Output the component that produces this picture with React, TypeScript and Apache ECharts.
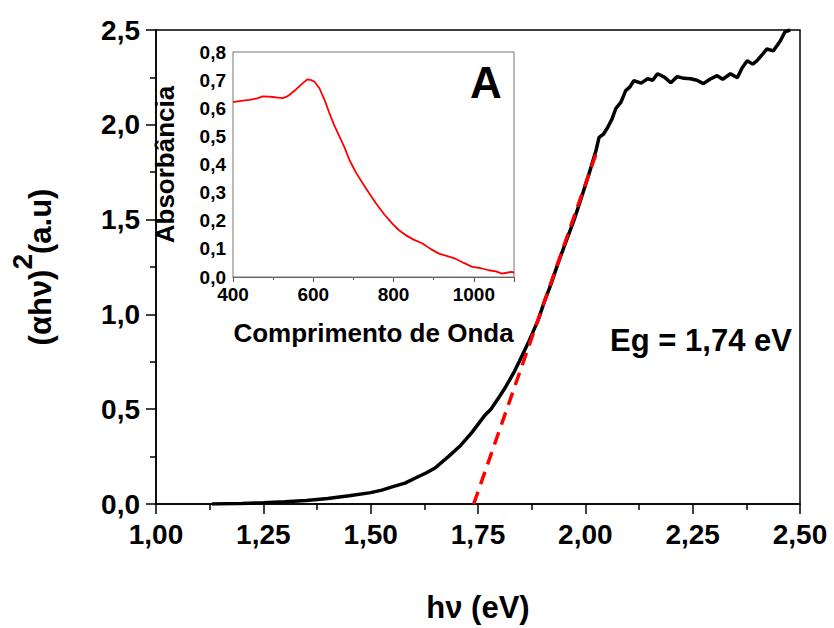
import React, { useEffect, useRef } from "react";
import * as echarts from "echarts";

// Main Tauc plot data: [hν (eV), (αhν)^2 (a.u)]
const mainHv = [
  1.13, 1.2, 1.25, 1.3, 1.35, 1.4, 1.45, 1.5, 1.526, 1.55, 1.58, 1.603, 1.63, 1.65, 1.681, 1.71, 1.735,
  1.75, 1.765, 1.78, 1.797, 1.815, 1.835, 1.85, 1.867, 1.89, 1.905, 1.92, 1.935, 1.951, 1.974, 1.99,
  2.009, 2.025, 2.032, 2.042, 2.052, 2.062, 2.071, 2.083, 2.094, 2.104, 2.113, 2.13, 2.145, 2.157,
  2.168, 2.185, 2.199, 2.214, 2.23, 2.245, 2.26, 2.275, 2.29, 2.307, 2.32, 2.338, 2.354, 2.365,
  2.377, 2.39, 2.4, 2.412, 2.423, 2.438, 2.454, 2.465, 2.477,
];
const mainVal = [
  0, 0.003, 0.007, 0.012, 0.019, 0.029, 0.043, 0.06, 0.073, 0.09, 0.11, 0.136, 0.165, 0.19, 0.25,
  0.31, 0.375, 0.42, 0.465, 0.5, 0.556, 0.62, 0.7, 0.77, 0.85, 0.97, 1.07, 1.16, 1.26, 1.36,
  1.5, 1.61, 1.745, 1.866, 1.934, 1.95, 1.986, 2.03, 2.086, 2.12, 2.18, 2.2, 2.233, 2.22, 2.243,
  2.235, 2.269, 2.25, 2.222, 2.254, 2.245, 2.243, 2.235, 2.217, 2.24, 2.259, 2.24, 2.269, 2.248,
  2.3, 2.338, 2.32, 2.338, 2.37, 2.4, 2.39, 2.442, 2.49, 2.5,
];
// Linear fit (band gap extrapolation)
const fitHv = [1.74, 2.03];
const fitVal = [0, 1.88];

// Inset absorbance spectrum: [wavelength (nm), absorbance]
const insetWl = [
  400, 420, 441, 460, 474, 490, 499, 512, 524, 535, 541, 553, 565, 576, 586, 595, 603, 615, 628,
  640, 652, 665, 678, 690, 706, 723, 740, 756, 776, 797, 812, 830, 850, 872, 892, 913, 934, 954,
  975, 996, 1016, 1037, 1055, 1070, 1085, 1095, 1100,
];
const insetVal = [
  0.622, 0.626, 0.63, 0.635, 0.642, 0.641, 0.64, 0.638, 0.636, 0.642, 0.648, 0.662, 0.678, 0.692,
  0.703, 0.7, 0.694, 0.672, 0.63, 0.583, 0.54, 0.5, 0.46, 0.416, 0.372, 0.333, 0.296, 0.262,
  0.224, 0.19, 0.168, 0.149, 0.133, 0.119, 0.1, 0.083, 0.074, 0.065, 0.05, 0.036, 0.032, 0.024,
  0.02, 0.012, 0.016, 0.018, 0.015,
];

const xTickStep = 0.25;
const yTickStep = 0.5;

const FONT = "Liberation Sans, Arial, Helvetica, sans-serif";

function zip(a: number[], b: number[]) {
  return a.map((v, i) => [v, b[i]]);
}

export default function App() {
  const ref = useRef<HTMLDivElement>(null);
  useEffect(() => {
    document.body.style.margin = "0";
    if (!ref.current) return;
    const chart = echarts.init(ref.current, undefined, { renderer: "svg" });
    const comma = (d: number) => (v: number) => v.toFixed(d).replace(".", ",");
    chart.setOption({
      animation: false,
      backgroundColor: "#fff",
      textStyle: { fontFamily: FONT },
      grid: [
        {
          left: 153,
          top: 30,
          width: 647,
          height: 475,
          show: true,
          borderColor: "#000",
          borderWidth: 1.5,
          backgroundColor: "transparent",
        },
        {
          left: 233,
          top: 52,
          width: 281,
          height: 225,
          show: true,
          borderColor: "#777",
          borderWidth: 1,
          backgroundColor: "#fff",
          z: 5,
        },
      ],
      xAxis: [
        {
          type: "value",
          gridIndex: 0,
          min: 1.0,
          max: 2.5,
          interval: xTickStep,
          name: "hν (eV)",
          nameLocation: "middle",
          nameGap: 88,
          nameTextStyle: { fontSize: 31, fontWeight: "bold", color: "#000", fontFamily: FONT },
          axisLine: { lineStyle: { color: "#000", width: 1.5 } },
          axisTick: { inside: false, length: 10, lineStyle: { color: "#000", width: 1.5 } },
          minorTick: { show: true, splitNumber: 2, length: 6, lineStyle: { color: "#000", width: 1.5 } },
          splitLine: { show: false },
          axisLabel: {
            formatter: comma(2),
            fontSize: 28,
            fontWeight: "bold",
            color: "#000",
            margin: 16,
            fontFamily: FONT,
          },
        },
        {
          type: "value",
          gridIndex: 1,
          min: 400,
          max: 1100,
          interval: 200,
          name: "Comprimento de Onda",
          nameLocation: "middle",
          nameGap: 43,
          nameTextStyle: { fontSize: 26, fontWeight: "bold", color: "#000", fontFamily: FONT },
          axisLine: { lineStyle: { color: "#555", width: 1 } },
          axisTick: { inside: false, length: 5, lineStyle: { color: "#555", width: 1 } },
          minorTick: { show: true, splitNumber: 2, length: 3, lineStyle: { color: "#555", width: 1 } },
          splitLine: { show: false },
          axisLabel: {
            formatter: (v: number) => String(v),
            fontSize: 19,
            fontWeight: "bold",
            color: "#000",
            margin: 8,
            showMaxLabel: false,
            fontFamily: FONT,
          },
        },
      ],
      yAxis: [
        {
          type: "value",
          gridIndex: 0,
          min: 0,
          max: 2.5,
          interval: yTickStep,
          name: "{a|(αhν)}{s|2}{a|(a.u)}",
          nameLocation: "middle",
          nameRotate: 90,
          nameGap: 100,
          nameTextStyle: {
            color: "#000",
            rich: {
              a: { fontSize: 31, fontWeight: "bold", color: "#000", lineHeight: 48, verticalAlign: "bottom", fontFamily: FONT },
              s: { fontSize: 28, fontWeight: "bold", color: "#000", lineHeight: 28, verticalAlign: "top", fontFamily: FONT },
            },
          },
          axisLine: { lineStyle: { color: "#000", width: 1.5 } },
          axisTick: { inside: false, length: 10, lineStyle: { color: "#000", width: 1.5 } },
          minorTick: { show: true, splitNumber: 2, length: 6, lineStyle: { color: "#000", width: 1.5 } },
          splitLine: { show: false },
          axisLabel: {
            formatter: comma(1),
            fontSize: 28,
            fontWeight: "bold",
            color: "#000",
            margin: 16,
            fontFamily: FONT,
          },
        },
        {
          type: "value",
          gridIndex: 1,
          min: 0,
          max: 0.8,
          interval: 0.1,
          name: "Absorbância",
          nameLocation: "middle",
          nameRotate: 90,
          nameGap: 55,
          nameTextStyle: { fontSize: 26, fontWeight: "bold", color: "#000", fontFamily: FONT },
          axisLine: { lineStyle: { color: "#555", width: 1 } },
          axisTick: { inside: true, length: 4, lineStyle: { color: "#555", width: 1 } },
          minorTick: { show: false },
          splitLine: { show: false },
          axisLabel: {
            formatter: comma(1),
            fontSize: 19,
            fontWeight: "bold",
            color: "#000",
            margin: 7,
            fontFamily: FONT,
          },
        },
      ],
      series: [
        {
          type: "line",
          xAxisIndex: 0,
          yAxisIndex: 0,
          data: zip(mainHv, mainVal),
          showSymbol: false,
          symbol: "none",
          lineStyle: { color: "#000", width: 3.5 },
          z: 3,
        },
        {
          type: "line",
          xAxisIndex: 0,
          yAxisIndex: 0,
          data: zip(fitHv, fitVal),
          showSymbol: false,
          symbol: "none",
          lineStyle: { color: "#ff0000", width: 3.5, type: [13, 8] },
          z: 4,
        },
        {
          type: "line",
          xAxisIndex: 1,
          yAxisIndex: 1,
          data: zip(insetWl, insetVal),
          showSymbol: false,
          symbol: "none",
          lineStyle: { color: "#ff0000", width: 1.8 },
          z: 6,
        },
      ],
      graphic: [
        {
          type: "text",
          x: 486,
          y: 82,
          z: 10,
          style: {
            text: "A",
            font: `bold 44px ${FONT}`,
            fill: "#000",
            align: "center",
            verticalAlign: "middle",
          },
        },
        {
          type: "text",
          x: 701,
          y: 340,
          z: 10,
          style: {
            text: "Eg = 1,74 eV",
            font: `bold 31px ${FONT}`,
            fill: "#000",
            align: "center",
            verticalAlign: "middle",
          },
        },
      ],
    });
    return () => chart.dispose();
  }, []);
  return <div ref={ref} style={{ width: 834, height: 628 }} />;
}
